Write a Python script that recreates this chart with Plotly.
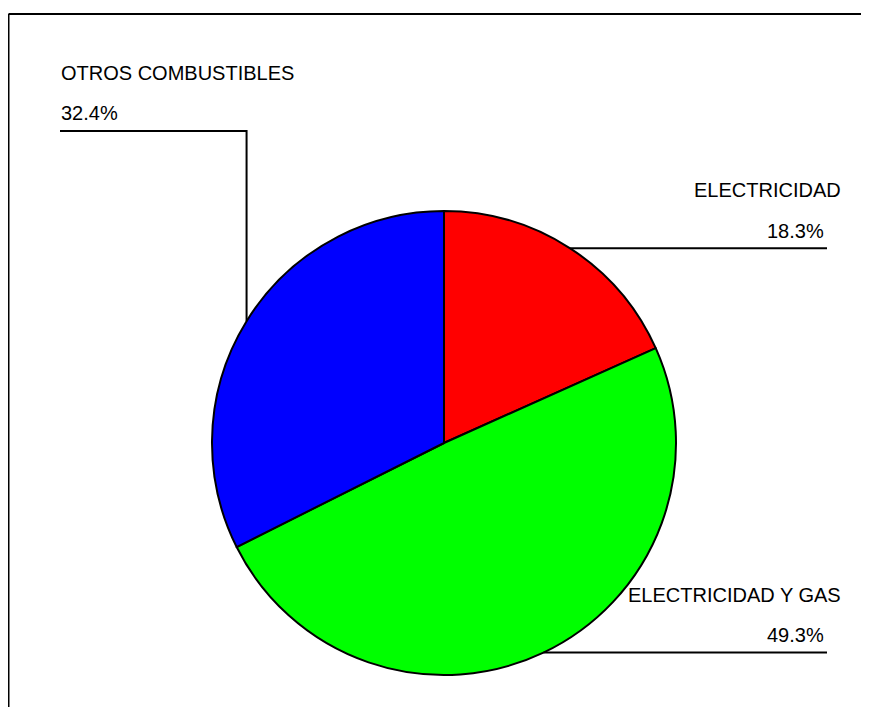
import math
import plotly.graph_objects as go

labels = ["ELECTRICIDAD", "ELECTRICIDAD Y GAS", "OTROS COMBUSTIBLES"]
values = [18.3, 49.3, 32.4]
colors = ["#FF0000", "#00FF00", "#0000FF"]

W, H = 869, 707
OFF = 8  # page body margin: data coordinates below are window pixels
cx, cy, R = 444, 443, 232
FONT = dict(family="Arial, Liberation Sans, sans-serif", size=20, color="#000000")

fcx, fcy = cx - OFF, cy - OFF  # figure pixel coords
fig = go.Figure()
fig.add_trace(go.Pie(
    labels=labels, values=values, sort=False, direction="clockwise", rotation=0,
    marker=dict(colors=colors, line=dict(color="black", width=2)),
    textinfo="none", hoverinfo="label+percent", showlegend=False,
    domain=dict(x=[(fcx - R) / W, (fcx + R) / W],
                y=[(H - fcy - R) / H, (H - fcy + R) / H]),
))

shapes = [
    dict(type="line", xref="x", yref="y", x0=8.5, y0=14, x1=W + 40, y1=14,
         line=dict(color="black", width=2)),
    dict(type="line", xref="x", yref="y", x0=8.5, y0=14, x1=8.5, y1=H + 40,
         line=dict(color="black", width=2)),
]
annotations = []
total = sum(values)
cum = 0.0
for lab, v in zip(labels, values):
    mid = (cum + v / 2) / total
    cum += v
    th = 2 * math.pi * mid
    px = cx + R * math.sin(th)
    py = cy - R * math.cos(th)
    pct = f"{v:.1f}%"
    if px >= cx:
        shapes.append(dict(type="line", xref="x", yref="y", x0=px, y0=py, x1=827, y1=py,
                           line=dict(color="black", width=2)))
        annotations.append(dict(x=843, y=py - 58, xref="x", yref="y", text=lab, showarrow=False,
                                xanchor="right", yanchor="middle", font=FONT))
        annotations.append(dict(x=826, y=py - 17.5, xref="x", yref="y", text=pct, showarrow=False,
                                xanchor="right", yanchor="middle", font=FONT))
    else:
        ly = 131
        shapes.append(dict(type="path", xref="x", yref="y",
                           path=f"M {px},{py} L {px},{ly} L 60,{ly}",
                           line=dict(color="black", width=2)))
        annotations.append(dict(x=59, y=ly - 58, xref="x", yref="y", text=lab, showarrow=False,
                                xanchor="left", yanchor="middle", font=FONT))
        annotations.append(dict(x=59, y=ly - 18.5, xref="x", yref="y", text=pct, showarrow=False,
                                xanchor="left", yanchor="middle", font=FONT))

fig.update_layout(
    width=W, height=H, margin=dict(l=0, r=0, t=0, b=0),
    paper_bgcolor="white", plot_bgcolor="white",
    xaxis=dict(range=[OFF, W + OFF], visible=False, fixedrange=True),
    yaxis=dict(range=[H + OFF, OFF], visible=False, fixedrange=True),
    shapes=shapes, annotations=annotations,
)
fig.write_html("out.html",
               post_script="document.documentElement.style.overflow='hidden';document.body.style.overflow='hidden';")
